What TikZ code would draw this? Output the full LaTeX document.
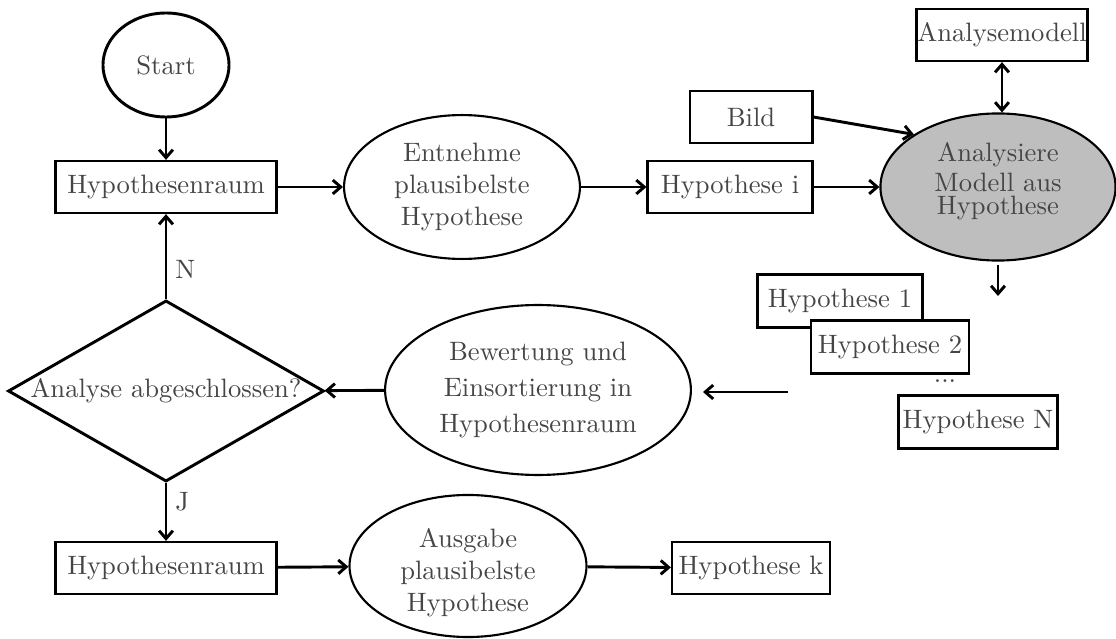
\documentclass[tikz,border=0pt]{standalone}
\usetikzlibrary{shapes.geometric,arrows.meta}
\definecolor{txt}{gray}{0.27}
\definecolor{fillgray}{gray}{0.745}
\begin{document}
\begin{tikzpicture}[x=0.376pt,y=-0.376pt,
  every node/.style={text=txt},
  box/.style={draw=black, line width=0.8pt, rectangle, inner sep=0pt,
    minimum height=19.6pt, fill=white},
  oval/.style={draw=black, line width=0.8pt, ellipse, inner sep=0pt, align=center},
  flow/.style={line width=1.1pt, -{Straight Barb[length=3pt,width=5.2pt]}},
  both/.style={line width=1.1pt, {Straight Barb[length=3pt,width=5.2pt]}-{Straight Barb[length=3pt,width=5.2pt]}},
]
\useasboundingbox (0,0) rectangle (1116,639);

% upper row
\node[oval, line width=1.1pt, minimum width=47.4pt, minimum height=39.1pt] (start) at (166,65) {Start};
\node[box, minimum width=83.1pt] (hr1) at (166,187) {Hypothesenraum};
\node[oval, minimum width=88.7pt, minimum height=54.1pt] (ent) at (462,187)
  {Entnehme\\plausibelste\\Hypothese};
\node[box, minimum width=62pt] (hi) at (730,187) {Hypothese i};
\node[oval, fill=fillgray, minimum width=88.4pt, minimum height=55.3pt,
  label={[align=center, yshift=2.2pt]center:Analysiere\\[-0.7pt]Modell aus\\[-3.2pt]Hypothese}]
  (ana) at (998,187) {};
\node[box, minimum width=64.3pt] (am) at (1002,35) {Analysemodell};
\node[box, minimum width=46.2pt] (bild) at (751,117) {Bild};

% hypothesis list
\node[box, minimum width=62pt, minimum height=19.9pt] (h1) at (840,301) {Hypothese 1};
\node[box, minimum width=59.4pt, minimum height=19.9pt] (h2) at (890,347) {Hypothese 2};
\node[inner sep=0pt] (dots) at (945,381) {...};
\node[box, minimum width=59.8pt, minimum height=19.9pt] (hN) at (978,422) {Hypothese N};
\coordinate (outA) at (998,296);
\coordinate (inB) at (788,392);
\coordinate (inBend) at (703,392);

% middle row
\node[diamond, draw=black, line width=1.1pt, inner sep=0pt,
  minimum width=118.8pt, minimum height=68.1pt,
  label={center:Analyse abgeschlossen?}] (dec) at (166,391) {};
\node[oval, minimum width=115pt, minimum height=63.9pt] (bew) at (538,390)
  {Bewertung und\\[1.7pt]Einsortierung in\\[1.7pt]Hypothesenraum};

% lower row
\node[box, minimum width=83.1pt] (hr2) at (166,568) {Hypothesenraum};
\node[oval, minimum width=89.1pt, minimum height=53.4pt,
  label={[align=center, yshift=-2.6pt]center:Ausgabe\\plausibelste\\Hypothese}]
  (aus) at (468,566) {};
\node[box, minimum width=59.4pt] (hk) at (751,568) {Hypothese k};

% connectors
\draw[flow] (start) -- (hr1);
\draw[flow] (hr1) -- (ent);
\draw[flow] (ent) -- (hi);
\draw[flow] (hi) -- (ana);
\draw[flow] (bild.east) -- (ana.148);
\draw[both] (am.south) -- (am.south |- ana.north);
\draw[flow] ([yshift=-1.1pt]ana.south) -- (outA);
\draw[flow] (inB) -- (inBend);
\draw[flow] (bew) -- (dec);
\draw[flow] (dec) -- node[pos=0.35, right, inner sep=3pt] {N} (hr1);
\draw[flow] (dec) -- node[pos=0.33, right, inner sep=3pt] {J} (hr2);
\draw[flow] (hr2) -- (aus);
\draw[flow] (aus) -- (hk);
\end{tikzpicture}
\end{document}
